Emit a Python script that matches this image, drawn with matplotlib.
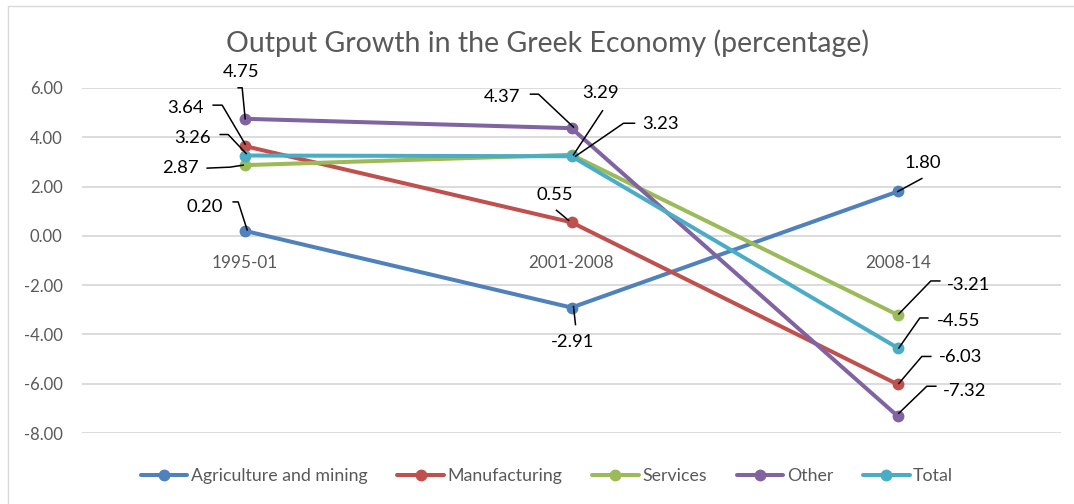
import matplotlib
matplotlib.use('Agg')
import matplotlib.pyplot as plt
import matplotlib.transforms as mtransforms
from matplotlib.lines import Line2D
from matplotlib.patches import Rectangle

plt.rcParams['font.family'] = ['Lato', 'DejaVu Sans']

periods = ['1995-01', '2001-2008', '2008-14']
agriculture = [0.20, -2.91, 1.80]
manufacturing = [3.64, 0.55, -6.03]
services = [2.87, 3.29, -3.21]
other = [4.75, 4.37, -7.32]
total = [3.26, 3.23, -4.55]

series_names = ['Agriculture and mining', 'Manufacturing', 'Services', 'Other', 'Total']
series_values = [agriculture, manufacturing, services, other, total]
colors = ['#4F81BD', '#C0504D', '#9BBB59', '#8064A2', '#4BACC6']
yticks = [6, 4, 2, 0, -2, -4, -6, -8]

GREY = '#595959'

# callout placement for (series, period): text offset and leader path,
# both in pixels from the data point, y pointing up
callouts = {
    (3, 0): ((-4, 47), [(0, 0), (-3, 31), (-7, 31)]),
    (1, 0): ((-60, 38), [(0, 2), (-23, 41), (-32, 41)]),
    (4, 0): ((-53, 18), [(1, 2), (-17, 21), (-25, 21)]),
    (2, 0): ((-65, -3), [(-2, 0), (-15, -2), (-38, -3)]),
    (0, 0): ((-40, 24), [(2, 1), (-7, 29), (-12, 29)]),
    (3, 1): ((-69, 31), [(2, 1), (-33, 34), (-41, 34)]),
    (2, 1): ((29, 62), [(2, 0), (31, 44)]),
    (4, 1): ((89, 32), [(4, 0), (52, 33), (63, 33)]),
    (1, 1): ((-17, 27), [(-3, 2), (-15, 12)]),
    (0, 1): ((1, -34), [(2, 1), (4, -17)]),
    (0, 2): ((25, 28), [(0, 0), (24, 13)]),
    (2, 2): ((71, 30), [(1, 1), (33, 34), (42, 34)]),
    (4, 2): ((61, 27), [(1, 0), (22, 30), (30, 30)]),
    (1, 2): ((63, 27), [(1, 1), (24, 28), (33, 28)]),
    (3, 2): ((67, 25), [(1, 3), (29, 30), (38, 30)]),
}

W, H = 1074, 504
fig = plt.figure(figsize=(W / 100, H / 100), dpi=100)
ax = fig.add_axes([82 / W, 1 - 433 / H, (1061 - 82) / W, (433 - 88) / H])

x = list(range(len(periods)))
for name, vals, c in zip(series_names, series_values, colors):
    ax.plot(x, vals, color=c, lw=2.9, marker='o', markersize=7.5,
            label=name, zorder=3, clip_on=False, solid_capstyle='round')

ax.set_xlim(-0.5, len(periods) - 0.5)
ax.set_ylim(-8, 6)
ax.set_yticks(yticks, [f'{t:.2f}' for t in yticks])
ax.yaxis.grid(True, color='#D9D9D9', lw=1.3)
ax.set_axisbelow(True)
for sp in ax.spines.values():
    sp.set_visible(False)
ax.spines['bottom'].set_position(('data', 0))
ax.set_xticks(x, periods)
ax.tick_params(axis='x', length=0, pad=14, labelsize=12.3, labelcolor=GREY)
ax.tick_params(axis='y', length=0, pad=14, labelsize=12, labelcolor=GREY)

# value callouts with leader lines
for (s, k), ((tx, ty), path) in callouts.items():
    v = series_values[s][k]
    anchor = mtransforms.ScaledTranslation(k, v, ax.transData)
    xs, ys = zip(*path)
    ax.add_line(Line2D(xs, ys, transform=mtransforms.Affine2D() + anchor,
                       color='black', lw=1.1, zorder=4, clip_on=False))
    ax.annotate(f'{v:.2f}', xy=(k, v), xytext=(tx, ty), textcoords='offset pixels',
                ha='center', va='center', fontsize=13.3, color='black', zorder=5)

ax.set_xlim(-0.5, len(periods) - 0.5)
ax.set_ylim(-8, 6)

fig.text(547 / W, 1 - 43 / H, 'Output Growth in the Greek Economy (percentage)',
         ha='center', va='center', fontsize=20.5, color=GREY)

fig.legend(loc='center', bbox_to_anchor=(547 / W, 1 - 476 / H), ncol=5, frameon=False,
           fontsize=12.8, labelcolor=GREY, handlelength=2.6, handletextpad=0.2,
           columnspacing=1.7)

# chart area border
fig.add_artist(Rectangle((8 / W, -0.05), 1.0, 1.05 - 6 / H, transform=fig.transFigure,
                         facecolor='none', edgecolor='#D9D9D9', lw=1.0))

fig.savefig('out.png', dpi=100, facecolor='white')
